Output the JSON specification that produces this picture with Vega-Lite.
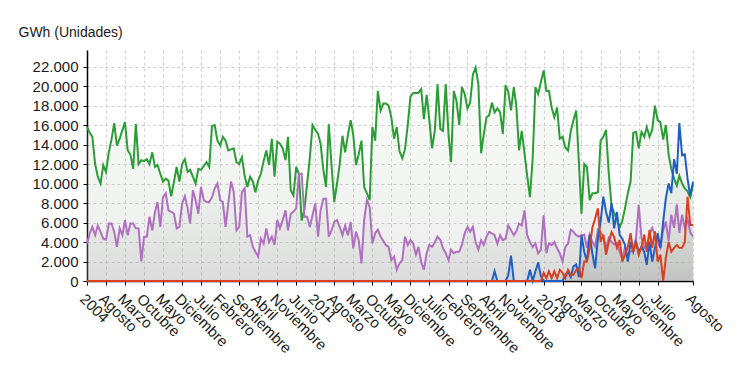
{
"$schema":"https://vega.github.io/schema/vega-lite/v6.json",
"width":606,"height":231,
"autosize":{"type":"none"},
"padding":{"left":87,"top":50,"right":57,"bottom":94},
"background":"white",
"config":{"font":"Liberation Sans","view":{"stroke":null}},
"data":{"values":[
{"d":"2004-01","g":15800,"p":3850,"b":0,"r":0},
{"d":"2004-02","g":15200,"p":4900,"b":0,"r":0},
{"d":"2004-03","g":14800,"p":5550,"b":0,"r":0},
{"d":"2004-04","g":12000,"p":4700,"b":0,"r":0},
{"d":"2004-05","g":10700,"p":5700,"b":0,"r":0},
{"d":"2004-06","g":10000,"p":5050,"b":0,"r":0},
{"d":"2004-07","g":11900,"p":4350,"b":0,"r":0},
{"d":"2004-08","g":11200,"p":4250,"b":0,"r":0},
{"d":"2004-09","g":13200,"p":5900,"b":0,"r":0},
{"d":"2004-10","g":14500,"p":5900,"b":0,"r":0},
{"d":"2004-11","g":16200,"p":5050,"b":0,"r":0},
{"d":"2004-12","g":13900,"p":3500,"b":0,"r":0},
{"d":"2005-01","g":14600,"p":5400,"b":0,"r":0},
{"d":"2005-02","g":15500,"p":4700,"b":0,"r":0},
{"d":"2005-03","g":16300,"p":6250,"b":0,"r":0},
{"d":"2005-04","g":13400,"p":4700,"b":0,"r":0},
{"d":"2005-05","g":13000,"p":5900,"b":0,"r":0},
{"d":"2005-06","g":11500,"p":5900,"b":0,"r":0},
{"d":"2005-07","g":16100,"p":5400,"b":0,"r":0},
{"d":"2005-08","g":12000,"p":5400,"b":0,"r":0},
{"d":"2005-09","g":12400,"p":2000,"b":0,"r":0},
{"d":"2005-10","g":12300,"p":4550,"b":0,"r":0},
{"d":"2005-11","g":12500,"p":4550,"b":0,"r":0},
{"d":"2005-12","g":12000,"p":6600,"b":0,"r":0},
{"d":"2006-01","g":13200,"p":5200,"b":0,"r":0},
{"d":"2006-02","g":11700,"p":7100,"b":0,"r":0},
{"d":"2006-03","g":11900,"p":8100,"b":0,"r":0},
{"d":"2006-04","g":11000,"p":5550,"b":0,"r":0},
{"d":"2006-05","g":10200,"p":8600,"b":0,"r":0},
{"d":"2006-06","g":10500,"p":9000,"b":0,"r":0},
{"d":"2006-07","g":10300,"p":7250,"b":0,"r":0},
{"d":"2006-08","g":8700,"p":7100,"b":0,"r":0},
{"d":"2006-09","g":10200,"p":6900,"b":0,"r":0},
{"d":"2006-10","g":11700,"p":5400,"b":0,"r":0},
{"d":"2006-11","g":10200,"p":5550,"b":0,"r":0},
{"d":"2006-12","g":12000,"p":7950,"b":0,"r":0},
{"d":"2007-01","g":12500,"p":8700,"b":0,"r":0},
{"d":"2007-02","g":11200,"p":7450,"b":0,"r":0},
{"d":"2007-03","g":11400,"p":5900,"b":0,"r":0},
{"d":"2007-04","g":10700,"p":9300,"b":0,"r":0},
{"d":"2007-05","g":10000,"p":8300,"b":0,"r":0},
{"d":"2007-06","g":11500,"p":6900,"b":0,"r":0},
{"d":"2007-07","g":11400,"p":9650,"b":0,"r":0},
{"d":"2007-08","g":11800,"p":8300,"b":0,"r":0},
{"d":"2007-09","g":12200,"p":8100,"b":0,"r":0},
{"d":"2007-10","g":11700,"p":8100,"b":0,"r":0},
{"d":"2007-11","g":15900,"p":8600,"b":0,"r":0},
{"d":"2007-12","g":16000,"p":9500,"b":0,"r":0},
{"d":"2008-01","g":14400,"p":10000,"b":0,"r":0},
{"d":"2008-02","g":13900,"p":8300,"b":0,"r":0},
{"d":"2008-03","g":14800,"p":8100,"b":0,"r":0},
{"d":"2008-04","g":14400,"p":5550,"b":0,"r":0},
{"d":"2008-05","g":13400,"p":7950,"b":0,"r":0},
{"d":"2008-06","g":13500,"p":10200,"b":0,"r":0},
{"d":"2008-07","g":13600,"p":9150,"b":0,"r":0},
{"d":"2008-08","g":12200,"p":5200,"b":0,"r":0},
{"d":"2008-09","g":12000,"p":5550,"b":0,"r":0},
{"d":"2008-10","g":12700,"p":9150,"b":0,"r":0},
{"d":"2008-11","g":10800,"p":9500,"b":0,"r":0},
{"d":"2008-12","g":9650,"p":4550,"b":0,"r":0},
{"d":"2009-01","g":10700,"p":4700,"b":0,"r":0},
{"d":"2009-02","g":10200,"p":3500,"b":0,"r":0},
{"d":"2009-03","g":9100,"p":3000,"b":0,"r":0},
{"d":"2009-04","g":10300,"p":2500,"b":0,"r":0},
{"d":"2009-05","g":11000,"p":4350,"b":0,"r":0},
{"d":"2009-06","g":12300,"p":3850,"b":0,"r":0},
{"d":"2009-07","g":13400,"p":5400,"b":0,"r":0},
{"d":"2009-08","g":11900,"p":4000,"b":0,"r":0},
{"d":"2009-09","g":14600,"p":4550,"b":0,"r":0},
{"d":"2009-10","g":10700,"p":3700,"b":0,"r":0},
{"d":"2009-11","g":14300,"p":6250,"b":0,"r":0},
{"d":"2009-12","g":14100,"p":5400,"b":0,"r":0},
{"d":"2010-01","g":13600,"p":6250,"b":0,"r":0},
{"d":"2010-02","g":12400,"p":7250,"b":0,"r":0},
{"d":"2010-03","g":14800,"p":5200,"b":0,"r":0},
{"d":"2010-04","g":9300,"p":6900,"b":0,"r":0},
{"d":"2010-05","g":8800,"p":7100,"b":0,"r":0},
{"d":"2010-06","g":11700,"p":7450,"b":0,"r":0},
{"d":"2010-07","g":11000,"p":11000,"b":0,"r":0},
{"d":"2010-08","g":6200,"p":11000,"b":0,"r":0},
{"d":"2010-09","g":7300,"p":6600,"b":0,"r":0},
{"d":"2010-10","g":10000,"p":6600,"b":0,"r":0},
{"d":"2010-11","g":12700,"p":5550,"b":0,"r":0},
{"d":"2010-12","g":16000,"p":6750,"b":0,"r":0},
{"d":"2011-01","g":15500,"p":7950,"b":0,"r":0},
{"d":"2011-02","g":15100,"p":4550,"b":0,"r":0},
{"d":"2011-03","g":14100,"p":7250,"b":0,"r":0},
{"d":"2011-04","g":11400,"p":8450,"b":0,"r":0},
{"d":"2011-05","g":9650,"p":8450,"b":0,"r":0},
{"d":"2011-06","g":16100,"p":4550,"b":0,"r":0},
{"d":"2011-07","g":12000,"p":5200,"b":0,"r":0},
{"d":"2011-08","g":8100,"p":6050,"b":0,"r":0},
{"d":"2011-09","g":10000,"p":6250,"b":0,"r":0},
{"d":"2011-10","g":12000,"p":5550,"b":0,"r":0},
{"d":"2011-11","g":14900,"p":4700,"b":0,"r":0},
{"d":"2011-12","g":13200,"p":5700,"b":0,"r":0},
{"d":"2012-01","g":15000,"p":4700,"b":0,"r":0},
{"d":"2012-02","g":16500,"p":6050,"b":0,"r":0},
{"d":"2012-03","g":15000,"p":3350,"b":0,"r":0},
{"d":"2012-04","g":11900,"p":5050,"b":0,"r":0},
{"d":"2012-05","g":13000,"p":4200,"b":0,"r":0},
{"d":"2012-06","g":14400,"p":1800,"b":0,"r":0},
{"d":"2012-07","g":9650,"p":6250,"b":0,"r":0},
{"d":"2012-08","g":9000,"p":8300,"b":0,"r":0},
{"d":"2012-09","g":8300,"p":7600,"b":0,"r":0},
{"d":"2012-10","g":15800,"p":3850,"b":0,"r":0},
{"d":"2012-11","g":14400,"p":4900,"b":0,"r":0},
{"d":"2012-12","g":19500,"p":5250,"b":0,"r":0},
{"d":"2013-01","g":17500,"p":4550,"b":0,"r":0},
{"d":"2013-02","g":18200,"p":4100,"b":0,"r":0},
{"d":"2013-03","g":18200,"p":3700,"b":0,"r":0},
{"d":"2013-04","g":18000,"p":3500,"b":0,"r":0},
{"d":"2013-05","g":16800,"p":2150,"b":0,"r":0},
{"d":"2013-06","g":14600,"p":2500,"b":0,"r":0},
{"d":"2013-07","g":15800,"p":1150,"b":0,"r":0},
{"d":"2013-08","g":13300,"p":1800,"b":0,"r":0},
{"d":"2013-09","g":12600,"p":2150,"b":0,"r":0},
{"d":"2013-10","g":13500,"p":4550,"b":0,"r":0},
{"d":"2013-11","g":16000,"p":3700,"b":0,"r":0},
{"d":"2013-12","g":18900,"p":4200,"b":0,"r":0},
{"d":"2014-01","g":19300,"p":3850,"b":0,"r":0},
{"d":"2014-02","g":19300,"p":2700,"b":0,"r":0},
{"d":"2014-03","g":19300,"p":3500,"b":0,"r":0},
{"d":"2014-04","g":19700,"p":1950,"b":0,"r":0},
{"d":"2014-05","g":16600,"p":1150,"b":0,"r":0},
{"d":"2014-06","g":19100,"p":2850,"b":0,"r":0},
{"d":"2014-07","g":16500,"p":3700,"b":0,"r":0},
{"d":"2014-08","g":13600,"p":3500,"b":0,"r":0},
{"d":"2014-09","g":15500,"p":4000,"b":0,"r":0},
{"d":"2014-10","g":20200,"p":4550,"b":0,"r":0},
{"d":"2014-11","g":15600,"p":4200,"b":0,"r":0},
{"d":"2014-12","g":15400,"p":3350,"b":0,"r":0},
{"d":"2015-01","g":20200,"p":2850,"b":0,"r":0},
{"d":"2015-02","g":15000,"p":2150,"b":0,"r":0},
{"d":"2015-03","g":12200,"p":3200,"b":0,"r":0},
{"d":"2015-04","g":19500,"p":2850,"b":0,"r":0},
{"d":"2015-05","g":18500,"p":3000,"b":0,"r":0},
{"d":"2015-06","g":16000,"p":3000,"b":0,"r":0},
{"d":"2015-07","g":19900,"p":3700,"b":0,"r":0},
{"d":"2015-08","g":19200,"p":4900,"b":0,"r":0},
{"d":"2015-09","g":17700,"p":5550,"b":0,"r":0},
{"d":"2015-10","g":18300,"p":5050,"b":0,"r":0},
{"d":"2015-11","g":21200,"p":5550,"b":0,"r":0},
{"d":"2015-12","g":21900,"p":4000,"b":0,"r":0},
{"d":"2016-01","g":20200,"p":3200,"b":0,"r":0},
{"d":"2016-02","g":13100,"p":4200,"b":0,"r":0},
{"d":"2016-03","g":15000,"p":3700,"b":0,"r":0},
{"d":"2016-04","g":16800,"p":4550,"b":0,"r":0},
{"d":"2016-05","g":17000,"p":5050,"b":0,"r":0},
{"d":"2016-06","g":18300,"p":4900,"b":0,"r":0},
{"d":"2016-07","g":17300,"p":4700,"b":1000,"r":0},
{"d":"2016-08","g":17700,"p":3850,"b":0,"r":0},
{"d":"2016-09","g":17300,"p":4700,"b":0,"r":0},
{"d":"2016-10","g":15100,"p":4200,"b":0,"r":0},
{"d":"2016-11","g":20100,"p":4350,"b":0,"r":0},
{"d":"2016-12","g":19400,"p":5700,"b":600,"r":0},
{"d":"2017-01","g":17500,"p":5200,"b":2600,"r":0},
{"d":"2017-02","g":19900,"p":4700,"b":0,"r":0},
{"d":"2017-03","g":18000,"p":5100,"b":0,"r":0},
{"d":"2017-04","g":13400,"p":5900,"b":0,"r":0},
{"d":"2017-05","g":15400,"p":5700,"b":0,"r":0},
{"d":"2017-06","g":13100,"p":7250,"b":0,"r":0},
{"d":"2017-07","g":10800,"p":4700,"b":0,"r":0},
{"d":"2017-08","g":8600,"p":4000,"b":1150,"r":0},
{"d":"2017-09","g":12700,"p":3500,"b":0,"r":0},
{"d":"2017-10","g":19900,"p":3850,"b":1000,"r":0},
{"d":"2017-11","g":19200,"p":2850,"b":1900,"r":0},
{"d":"2017-12","g":20400,"p":3200,"b":500,"r":0},
{"d":"2018-01","g":21600,"p":6750,"b":0,"r":850},
{"d":"2018-02","g":19500,"p":2850,"b":0,"r":300},
{"d":"2018-03","g":19500,"p":3850,"b":0,"r":1000},
{"d":"2018-04","g":17800,"p":3700,"b":0,"r":300},
{"d":"2018-05","g":16800,"p":4000,"b":0,"r":1000},
{"d":"2018-06","g":17800,"p":3350,"b":0,"r":300},
{"d":"2018-07","g":14600,"p":2850,"b":0,"r":1150},
{"d":"2018-08","g":14800,"p":2000,"b":0,"r":850},
{"d":"2018-09","g":13700,"p":3500,"b":650,"r":300},
{"d":"2018-10","g":13400,"p":3850,"b":1000,"r":1150},
{"d":"2018-11","g":15400,"p":5250,"b":400,"r":650},
{"d":"2018-12","g":16500,"p":5050,"b":1500,"r":650},
{"d":"2019-01","g":17500,"p":4700,"b":1700,"r":1150},
{"d":"2019-02","g":12000,"p":4550,"b":400,"r":1300},
{"d":"2019-03","g":6900,"p":4700,"b":4700,"r":300},
{"d":"2019-04","g":12000,"p":4750,"b":3000,"r":2000},
{"d":"2019-05","g":11700,"p":3400,"b":2000,"r":2000},
{"d":"2019-06","g":8300,"p":4750,"b":4750,"r":3400},
{"d":"2019-07","g":9000,"p":4000,"b":2800,"r":5500},
{"d":"2019-08","g":9000,"p":3550,"b":1300,"r":6400},
{"d":"2019-09","g":9100,"p":5250,"b":4400,"r":7450},
{"d":"2019-10","g":14400,"p":5000,"b":6100,"r":4000},
{"d":"2019-11","g":14800,"p":4550,"b":8650,"r":4750},
{"d":"2019-12","g":15500,"p":3400,"b":7100,"r":2700},
{"d":"2020-01","g":11000,"p":4400,"b":6000,"r":4000},
{"d":"2020-02","g":7700,"p":4000,"b":8000,"r":5000},
{"d":"2020-03","g":7000,"p":3750,"b":5400,"r":4500},
{"d":"2020-04","g":6300,"p":3900,"b":7100,"r":3400},
{"d":"2020-05","g":5500,"p":3000,"b":4750,"r":4200},
{"d":"2020-06","g":6200,"p":2350,"b":4300,"r":2000},
{"d":"2020-07","g":7500,"p":3400,"b":3700,"r":2700},
{"d":"2020-08","g":9000,"p":2550,"b":2000,"r":3500},
{"d":"2020-09","g":10200,"p":3000,"b":4000,"r":4900},
{"d":"2020-10","g":15200,"p":3200,"b":3000,"r":3000},
{"d":"2020-11","g":15300,"p":4400,"b":4000,"r":4000},
{"d":"2020-12","g":13600,"p":7850,"b":3000,"r":2700},
{"d":"2021-01","g":15300,"p":4400,"b":3500,"r":3500},
{"d":"2021-02","g":14800,"p":3400,"b":3000,"r":4750},
{"d":"2021-03","g":15800,"p":3550,"b":1650,"r":3000},
{"d":"2021-04","g":14800,"p":4750,"b":4050,"r":5250},
{"d":"2021-05","g":15500,"p":5450,"b":2000,"r":3400},
{"d":"2021-06","g":18000,"p":4750,"b":3400,"r":5100},
{"d":"2021-07","g":16500,"p":4000,"b":4900,"r":2000},
{"d":"2021-08","g":16300,"p":3400,"b":3400,"r":2700},
{"d":"2021-09","g":14500,"p":5250,"b":6100,"r":0},
{"d":"2021-10","g":16000,"p":6100,"b":8500,"r":2400},
{"d":"2021-11","g":13000,"p":4100,"b":10000,"r":4000},
{"d":"2021-12","g":11500,"p":6800,"b":9000,"r":3000},
{"d":"2022-01","g":10500,"p":5450,"b":12500,"r":3400},
{"d":"2022-02","g":9800,"p":7850,"b":11000,"r":3700},
{"d":"2022-03","g":10800,"p":4950,"b":16200,"r":3400},
{"d":"2022-04","g":10000,"p":6800,"b":12900,"r":3400},
{"d":"2022-05","g":9500,"p":5450,"b":13000,"r":4000},
{"d":"2022-06","g":9200,"p":6300,"b":10500,"r":8650},
{"d":"2022-07","g":8600,"p":5000,"b":8700,"r":5750},
{"d":"2022-08","g":9900,"p":4550,"b":10200,"r":5750}
]},
"transform":[{"fold":["g","p","b","r"],"as":["k","v"]}],
"encoding":{
"x":{"field":"d","type":"temporal",
"scale":{"type":"utc","nice":false,"domain":[{"year":2004,"month":1,"date":1,"utc":true},{"year":2022,"month":8,"date":1,"utc":true}]},
"axis":{"title":null,
"values":[{"year":2004,"month":1,"utc":true},{"year":2004,"month":8,"utc":true},{"year":2005,"month":3,"utc":true},{"year":2005,"month":10,"utc":true},{"year":2006,"month":5,"utc":true},{"year":2006,"month":12,"utc":true},{"year":2007,"month":7,"utc":true},{"year":2008,"month":2,"utc":true},{"year":2008,"month":9,"utc":true},{"year":2009,"month":4,"utc":true},{"year":2009,"month":11,"utc":true},{"year":2010,"month":6,"utc":true},{"year":2011,"month":1,"utc":true},{"year":2011,"month":8,"utc":true},{"year":2012,"month":3,"utc":true},{"year":2012,"month":10,"utc":true},{"year":2013,"month":5,"utc":true},{"year":2013,"month":12,"utc":true},{"year":2014,"month":7,"utc":true},{"year":2015,"month":2,"utc":true},{"year":2015,"month":9,"utc":true},{"year":2016,"month":4,"utc":true},{"year":2016,"month":11,"utc":true},{"year":2017,"month":6,"utc":true},{"year":2018,"month":1,"utc":true},{"year":2018,"month":8,"utc":true},{"year":2019,"month":3,"utc":true},{"year":2019,"month":10,"utc":true},{"year":2020,"month":5,"utc":true},{"year":2020,"month":12,"utc":true},{"year":2021,"month":7,"utc":true},{"year":2022,"month":8,"utc":true}],
"labelExpr":"utcmonth(datum.value) == 0 ? utcFormat(datum.value, '%Y') : ['Enero','Febrero','Marzo','Abril','Mayo','Junio','Julio','Agosto','Septiembre','Octubre','Noviembre','Diciembre'][utcmonth(datum.value)]",
"labelAngle":45,"labelAlign":"left","labelBaseline":"top","labelFontSize":15,"labelColor":"#1a1a1a","labelOverlap":false,"labelBound":false,"labelFlush":false,"labelPadding":6,
"tickSize":4,"tickColor":"#000","domainColor":"#000","domainWidth":1.5,
"grid":true,"gridColor":"#cfcfcf","gridDash":[3,3]}},
"y":{"field":"v","type":"quantitative","stack":null,
"scale":{"domain":[0,23700],"nice":false},
"axis":{"values":[0,2000,4000,6000,8000,10000,12000,14000,16000,18000,20000,22000],
"labelExpr":"replace(format(datum.value, ','), ',', '.')",
"labelFontSize":15,"labelColor":"#1a1a1a","labelPadding":5,"tickSize":4,"tickColor":"#000","domainColor":"#000","domainWidth":1.5,
"grid":true,"gridColor":"#cfcfcf","gridDash":[3,3],
"title":"GWh (Unidades)","titleAngle":0,"titleX":-69,"titleY":-18,"titleAlign":"left","titleBaseline":"middle","titleFontSize":14,"titleFontWeight":"normal","titleColor":"#1a1a1a"}}
},
"layer":[
{"mark":{"type":"area","line":false,"fill":{"gradient":"linear","x1":0,"y1":0,"x2":0,"y2":1,"stops":[{"offset":0,"color":"rgba(210,238,210,0.14)"},{"offset":1,"color":"rgba(140,140,140,0.17)"}]}},
 "encoding":{"detail":{"field":"k"}}},
{"mark":{"type":"line","strokeWidth":2},
 "encoding":{"color":{"field":"k","type":"nominal","legend":null,"sort":null,"scale":{"domain":["g","p","b","r"],"range":["#2a9e34","#b070c0","#1f5fc4","#d9401f"]}}}}
]
}
